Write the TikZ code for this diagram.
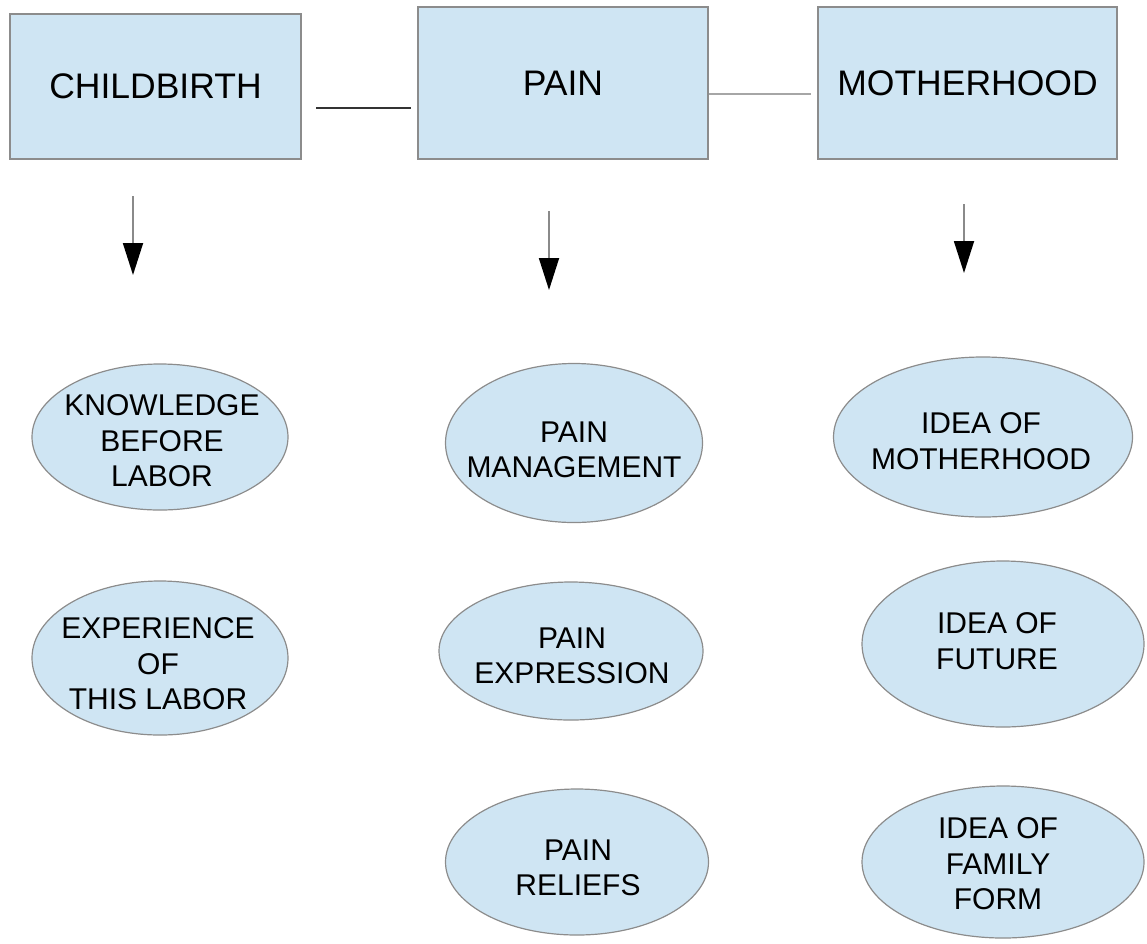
\documentclass[tikz,border=0pt]{standalone}
\usepackage{fontspec}
\setmainfont{Liberation Sans}
\usetikzlibrary{arrows.meta,shapes.geometric}
\definecolor{boxfill}{HTML}{CFE5F3}
\definecolor{boxline}{HTML}{8C8C8C}
\definecolor{shaft}{HTML}{8A8A8A}
\tikzset{
  topbox/.style={draw=boxline, line width=1.5pt, fill=boxfill, rectangle, inner sep=0pt,
    font=\fontsize{35.5}{40}\selectfont},
  oval/.style={draw=boxline, line width=1.2pt, fill=boxfill, ellipse, inner sep=0pt},
  ovaltext/.style={align=center, inner sep=0pt, font=\fontsize{30}{35.5}\selectfont},
  downarrow/.style={draw=shaft, line width=1.8pt, -{Triangle[length=32pt,width=20pt,color=black]}},
}
\begin{document}
\begin{tikzpicture}[x=1pt,y=-1pt]
\useasboundingbox (0,0) rectangle (1147,943);
% top boxes
\node[topbox, minimum width=291pt, minimum height=145pt] (cb) at (155.5,86.5) {CHILDBIRTH};
\node[topbox, minimum width=290pt, minimum height=152pt] (pn) at (563,83) {PAIN};
\node[topbox, minimum width=299pt, minimum height=152pt] (mh) at (967.5,83) {MOTHERHOOD};
% connector lines
\coordinate (l1a) at (316,108);
\coordinate (l1b) at (411,108);
\draw[line width=2pt, color=black!80] (l1a) -- (l1b);
\coordinate (l2a) at (pn.east |- 0,94);
\coordinate (l2b) at (811,94);
\draw[line width=2pt, color=black!35] (l2a) -- (l2b);
% arrows
\coordinate (a1s) at (133,196); \coordinate (a1e) at (133,275);
\coordinate (a2s) at (549,211); \coordinate (a2e) at (549,290);
\coordinate (a3s) at (964,204); \coordinate (a3e) at (964,273);
\draw[downarrow] (a1s) -- (a1e);
\draw[downarrow] (a2s) -- (a2e);
\draw[downarrow] (a3s) -- (a3e);
% ellipses column 1
\node[oval, minimum width=256pt, minimum height=146pt] (e1) at (160,437) {};
\node[ovaltext] (t1) at (162,441) {KNOWLEDGE\\BEFORE\\LABOR};
\node[oval, minimum width=256pt, minimum height=154pt] (e2) at (160,658) {};
\node[ovaltext] (t2) at (158,664) {EXPERIENCE\\OF\\THIS LABOR};
% column 2
\node[oval, minimum width=257pt, minimum height=159pt] (e3) at (574,443) {};
\node[ovaltext] (t3) at (574,450) {PAIN\\MANAGEMENT};
\node[oval, minimum width=264pt, minimum height=138pt] (e4) at (571,651) {};
\node[ovaltext] (t4) at (572,656) {PAIN\\EXPRESSION};
\node[oval, minimum width=263pt, minimum height=146pt] (e5) at (577,862) {};
\node[ovaltext] (t5) at (578,868) {PAIN\\RELIEFS};
% column 3
\node[oval, minimum width=299pt, minimum height=160pt] (e6) at (983,437) {};
\node[ovaltext] (t6) at (981,441) {IDEA OF\\MOTHERHOOD};
\node[oval, minimum width=282pt, minimum height=166pt] (e7) at (1003,644) {};
\node[ovaltext] (t7) at (997,641) {IDEA OF\\FUTURE};
\node[oval, minimum width=282pt, minimum height=152pt] (e8) at (1003,862) {};
\node[ovaltext] (t8) at (998,864) {IDEA OF\\FAMILY\\FORM};
\end{tikzpicture}
\end{document}
